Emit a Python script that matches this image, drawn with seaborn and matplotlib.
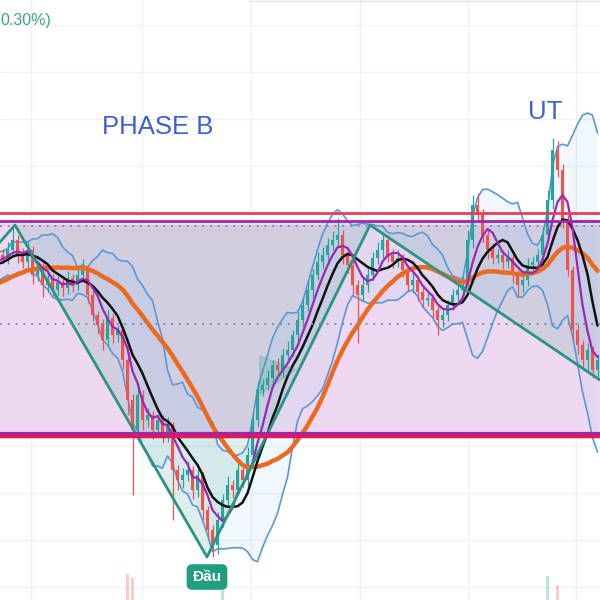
import numpy as np
import pandas as pd
import matplotlib
matplotlib.use("Agg")
import matplotlib.pyplot as plt
import seaborn as sns
from matplotlib.patches import Polygon

# closes before the visible window, only used to warm up the averages
pre_close = [29.0, 29.3, 29.5, 30.0, 29.0, 30.0, 30.5, 30.2, 31.0, 30.8, 31.5, 31.2,
             31.8, 32.0, 32.5, 32.2, 33.0, 32.8, 33.5, 33.2, 33.8, 34.2, 33.8, 34.5]

close = [34.2, 35.0, 36.0, 34.5, 33.8, 35.0, 32.5, 33.2, 31.5, 32.2,
         31.0, 31.8, 31.2, 32.2, 31.5, 32.5, 33.2, 30.5, 28.5, 27.5,
         26.0, 28.2, 26.5, 27.0, 24.0, 20.0, 17.0, 20.5, 18.0, 18.5,
         17.0, 18.0, 16.5, 17.5, 13.0, 12.0, 12.5, 13.0, 11.0, 12.5,
         9.0, 7.0, 5.5, 8.0, 10.0, 11.5, 11.0, 13.0, 12.0, 14.5,
         18.0, 21.0, 21.5, 22.2, 23.5, 23.0, 24.5, 25.0, 26.5, 28.0,
         29.5, 31.0, 32.5, 33.8, 34.5, 35.5, 36.0, 36.5, 34.5, 33.5,
         31.5, 30.5, 31.5, 32.5, 34.2, 35.0, 36.0, 34.5, 33.8, 34.2,
         33.0, 31.5, 32.0, 30.8, 30.0, 30.2, 29.0, 28.0, 28.5, 29.5,
         30.5, 31.0, 31.5, 36.0, 39.5, 38.5, 36.5, 35.0, 34.2, 34.5,
         33.8, 34.2, 32.5, 31.5, 32.0, 33.5, 33.8, 34.5, 36.5, 40.0,
         45.0, 43.0, 38.0, 33.0, 27.0, 25.5, 24.0, 25.0, 23.0, 24.0]

wick_hi = [0.6, 0.8, 1.5, 0.5, 0.7, 0.9, 0.4, 0.6, 0.5, 0.8,
           0.4, 0.6, 0.5, 0.7, 0.4, 0.6, 0.9, 0.3, 0.5, 0.4,
           0.6, 0.8, 0.4, 0.5, 0.3, 0.4, 0.6, 1.2, 0.5, 0.7,
           0.4, 0.6, 0.5, 0.8, 0.3, 0.5, 0.7, 0.9, 0.4, 0.6,
           0.3, 0.4, 0.5, 0.8, 0.6, 0.9, 0.5, 1.0, 0.6, 0.8,
           0.7, 0.9, 0.6, 0.8, 0.5, 0.7, 0.6, 0.9, 0.5, 0.8,
           0.7, 0.9, 0.6, 1.0, 0.8, 0.7, 0.9, 1.7, 0.5, 0.6,
           0.4, 0.5, 0.7, 0.9, 0.6, 0.8, 0.7, 0.5, 0.6, 0.8,
           0.4, 0.5, 0.7, 0.4, 0.6, 0.5, 0.4, 0.6, 0.7, 0.5,
           0.6, 0.8, 0.9, 1.0, 1.0, 1.2, 0.6, 0.5, 0.7, 0.6,
           0.5, 0.8, 0.4, 0.5, 0.6, 0.7, 0.5, 0.6, 0.8, 1.0,
           1.2, 0.9, 0.6, 0.5, 0.4, 0.6, 0.5, 0.7, 0.4, 0.6]

wick_lo = [0.5, 0.6, 0.4, 0.8, 0.6, 0.5, 0.9, 0.6, 1.2, 0.7,
           0.6, 0.5, 0.8, 0.6, 0.7, 0.5, 0.4, 0.8, 0.6, 0.9,
           1.0, 0.6, 0.8, 0.7, 0.9, 1.5, 6.5, 0.8, 1.0, 0.7,
           0.9, 0.6, 0.8, 0.7, 5.0, 1.0, 0.8, 0.6, 0.9, 0.7,
           1.0, 0.8, 1.2, 0.9, 0.7, 0.6, 0.8, 0.5, 0.7, 0.6,
           0.5, 0.7, 0.6, 0.5, 0.8, 0.6, 0.7, 0.5, 0.6, 0.8,
           0.7, 0.6, 0.8, 0.5, 0.7, 0.6, 0.5, 0.7, 0.9, 0.8,
           1.0, 4.8, 0.6, 0.7, 0.5, 0.6, 0.8, 0.7, 0.6, 0.5,
           0.7, 0.6, 0.8, 0.9, 0.7, 0.6, 0.8, 1.5, 0.7, 0.6,
           0.5, 0.6, 0.7, 0.5, 0.8, 0.6, 0.7, 0.9, 0.6, 0.5,
           0.7, 0.6, 0.8, 1.2, 0.7, 0.6, 0.5, 0.7, 0.6, 0.8,
           0.9, 0.7, 0.8, 0.6, 1.0, 0.9, 0.7, 1.1, 0.8, 0.7]

# volume bars that poke up into the price pane
vol_idx = [25, 26, 44, 109, 111]
vol_val = [2.6, 2.2, 1.0, 2.4, 1.5]

# drawn pattern (shoulder / head / neckline) and the small flag
pattern_x = [-3.5, 2.5, 40.9, 73.5, 119.5]
pattern_y = [34.1, 37.5, 4.3, 37.5, 22.0]
neck_y = 37.5
flag_x = [51.5, 58.5, 51.5]
flag_y = [24.4, 23.0, 20.6]

# range box
res_line = 38.7
range_top = 37.9
range_bot = 16.7
sup_line = 16.45
dot_lines = [37.4, 27.6]

grid_x = [5.7, 27.9, 49.7, 71.5, 93.1, 114.7]
grid_y = np.arange(1.35, 60, 4.675)

UP = "#26a69a"
DOWN = "#ef5350"
BAND = "#5b97d6"
TEAL = "#27957f"

sns.set_theme(style="white")
plt.rcParams["font.family"] = ["Liberation Sans", "DejaVu Sans"]

df = pd.DataFrame({"i": np.arange(-len(pre_close), len(close)),
                   "close": pre_close + close})
df["open"] = df["close"].shift(1)
df["ma_fast"] = df["close"].rolling(5).mean()
df["ma_mid"] = df["close"].rolling(8).mean()
df["ma_slow"] = df["close"].rolling(24).mean()
basis = df["close"].rolling(10).mean()
dev = df["close"].rolling(10).std(ddof=0)
df["bb_up"] = basis + 2 * dev
df["bb_lo"] = basis - 2 * dev

vis = df[df["i"] >= -1].copy()
cand = df[df["i"] >= 0].copy()
cand["hi"] = cand[["open", "close"]].max(axis=1) + np.array(wick_hi)
cand["lo"] = cand[["open", "close"]].min(axis=1) - np.array(wick_lo)
cand["col"] = np.where(cand["close"] >= cand["open"], UP, DOWN)

fig = plt.figure(figsize=(6, 6), dpi=100)
ax = fig.add_axes([0, 0, 1, 1])
ax.set_xlim(-0.5, 119.5)
ax.set_ylim(0, 60)
ax.set_axis_off()

for gx in grid_x:
    ax.axvline(gx, color="#f1f1f4", lw=1, zorder=0)
for gy in grid_y:
    ax.axhline(gy, color="#f1f1f4", lw=1, zorder=0)
ax.axhline(59.9, xmin=0.415, color="#e4e4e8", lw=1, zorder=0)

# range rectangle and the pattern fill
ax.axhspan(range_bot, range_top, color="#efd9f2", zorder=1, lw=0)
poly = [(pattern_x[1], neck_y), (pattern_x[2], pattern_y[2]), (pattern_x[3], pattern_y[3]),
        (pattern_x[4], pattern_y[4]), (pattern_x[4], neck_y)]
ax.add_patch(Polygon(poly, closed=True, fc=TEAL, alpha=0.15, lw=0, zorder=2))

# bollinger bands
ax.fill_between(vis["i"], vis["bb_lo"], vis["bb_up"], color="#90c4f0", alpha=0.13, lw=0, zorder=2)
sns.lineplot(data=vis, x="i", y="bb_up", ax=ax, color=BAND, lw=1.2, estimator=None, zorder=3)
sns.lineplot(data=vis, x="i", y="bb_lo", ax=ax, color=BAND, lw=1.2, estimator=None, zorder=3)

# volume
for k, v in zip(vol_idx, vol_val):
    c = cand.loc[cand["i"] == k, "col"].values[0]
    ax.bar(k, v, bottom=0, width=0.45, color=c, alpha=0.3, lw=0, zorder=3)

# candles
ax.vlines(cand["i"], cand["lo"], cand["hi"], colors=cand["col"], lw=0.9, zorder=4)
body = (cand["close"] - cand["open"]).abs().clip(lower=0.15)
ax.bar(cand["i"], body, bottom=cand[["open", "close"]].min(axis=1), width=0.5,
       color=cand["col"], lw=0, zorder=4)

# moving averages
sns.lineplot(data=vis, x="i", y="ma_slow", ax=ax, color="#ec6a1f", lw=3.2, estimator=None, zorder=5)
sns.lineplot(data=vis, x="i", y="ma_mid", ax=ax, color="#111111", lw=1.8, estimator=None, zorder=6)
sns.lineplot(data=vis, x="i", y="ma_fast", ax=ax, color="#9c27b0", lw=1.6, estimator=None, zorder=6)

# pattern lines
ax.plot(pattern_x, pattern_y, color=TEAL, lw=2, zorder=7)
ax.add_patch(Polygon(list(zip(flag_x, flag_y)), closed=True, fc=TEAL, alpha=0.2,
                     ec=TEAL, lw=1.5, zorder=7))

# range lines
ax.axhline(res_line, color="#e8405a", lw=2, zorder=8)
ax.axhline(range_top, color="#9c27b0", lw=2, zorder=8)
for d in dot_lines:
    ax.axhline(d, color="#8f86aa", lw=1.4, ls=(0, (1, 3)), zorder=8)
ax.axhline(sup_line, color="#d81b60", lw=3.2, zorder=8)
ax.axhline(range_bot, color="#9c27b0", lw=1.6, zorder=8)

ax.text(31.1, 47.3, "PHASE B", color="#3b5fd6", fontsize=18.5, ha="center", va="center", zorder=9)
ax.text(108.5, 48.8, "UT", color="#3b5fd6", fontsize=18.5, ha="center", va="center", zorder=9)
ax.text(-0.4, 58.0, "0.30%)", color="#3aa58d", fontsize=11.5, ha="left", va="center", zorder=9)
ax.text(40.9, 2.3, "Đầu", color="white", fontsize=11, fontweight="bold", ha="center", va="center",
        zorder=9, bbox=dict(boxstyle="round,pad=0.38", fc="#1f9e80", ec="none"))

fig.savefig("out.png", dpi=100)
